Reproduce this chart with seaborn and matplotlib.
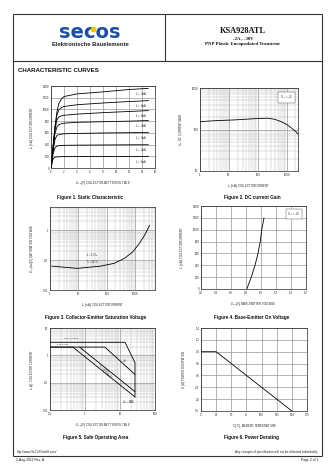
import numpy as np
import pandas as pd
import matplotlib
matplotlib.use("Agg")
import matplotlib.pyplot as plt
import seaborn as sns
from matplotlib.ticker import FixedLocator, LogLocator, NullFormatter, FixedFormatter

# ---------------- data ----------------
# Figure 1: static characteristic, -IC [mA] vs -VCE [V] for several IB
vce_pts = [0, 0.3, 0.6, 0.9, 1.2, 1.6, 2, 4, 8, 12, 15]
ib_names = ["7mA", "6mA", "5mA", "4mA", "3mA", "2mA", "1mA"]
ic_ib7 = [0, 350, 700, 950, 1100, 1180, 1220, 1265, 1300, 1340, 1360]
ic_ib6 = [0, 340, 680, 900, 990, 1030, 1050, 1080, 1110, 1135, 1150]
ic_ib5 = [0, 330, 640, 820, 870, 890, 900, 920, 945, 965, 980]
ic_ib4 = [0, 310, 580, 700, 740, 755, 765, 780, 790, 800, 810]
ic_ib3 = [0, 280, 480, 555, 570, 578, 584, 590, 598, 603, 607]
ic_ib2 = [0, 230, 340, 375, 382, 385, 387, 390, 393, 396, 397]
ic_ib1 = [0, 150, 185, 190, 192, 193, 194, 195, 196, 197, 198]

# Figure 2: DC current gain
hfe_ic = [1, 4, 15, 90, 220, 380, 650, 1000, 1450, 2150, 2450]
hfe_val = [155, 164, 170, 183, 187, 177, 155, 133, 110, 88, 78]

# Figure 3: collector-emitter saturation voltage
sat_ic = [1.15, 9, 61, 182, 415, 830, 1400, 2150, 3250]
sat_v = [0.063, 0.053, 0.063, 0.078, 0.114, 0.19, 0.36, 0.68, 1.47]

# Figure 4: base-emitter on voltage
vbe_v = [0.81, 0.87, 0.92, 0.96, 0.99, 1.01, 1.04]
vbe_ic = [0, 200, 400, 600, 800, 1000, 1200]

# Figure 5: safe operating area
soa_pulse_v = [0.1, 13.9, 26.8, 26.8]
soa_pulse_i = [3.0, 3.0, 0.54, 0.03]
soa_dc_v = [0.1, 3.7, 26.8]
soa_dc_i = [2.0, 2.0, 0.2]
soa_tc_v = [0.1, 0.45, 26.8]
soa_tc_i = [2.0, 2.0, 0.03]
soa_ta_v = [0.7, 26.8]
soa_ta_i = [2.0, 0.047]

# Figure 6: power derating
der_t = [0, 25, 150]
der_p = [1.0, 1.0, 0.0]

# ---------------- page ----------------
sns.set_style("white")
plt.rcParams['font.family'] = ['Liberation Sans', 'DejaVu Sans']
plt.rcParams['mathtext.fontset'] = 'custom'
plt.rcParams['mathtext.rm'] = 'Liberation Sans'

W, H = 336, 475
fig = plt.figure(figsize=(W / 100, H / 100), dpi=100)

page = fig.add_axes([0, 0, 1, 1])
page.set_xlim(0, W)
page.set_ylim(H, 0)
page.axis("off")

def hline(y, x0, x1, lw=0.8):
    page.plot([x0, x1], [y, y], color="#333", lw=lw, solid_capstyle="butt")

def vline(x, y0, y1, lw=0.8):
    page.plot([x, x], [y0, y1], color="#333", lw=lw, solid_capstyle="butt")

hline(14, 13, 322)
hline(61, 13, 322)
hline(456, 13, 322)
vline(13, 14, 456)
vline(322, 14, 456)
vline(165, 14, 61)

# logo
page.text(90, 32.5, "secos", ha="center", va="center", fontsize=14,
          fontweight="heavy", color="#1c4ea6", family="DejaVu Sans")
page.add_patch(plt.Circle((93.5, 29.5), 2.2, color="#f2c300", zorder=5))
page.text(90, 44.5, "Elektronische Bauelemente", ha="center", va="center",
          fontsize=4.2, fontweight="bold", color="#222")

page.text(243, 31, "KSA928ATL", ha="center", va="center", fontsize=6,
          family="Liberation Serif", fontweight="bold", color="#111")
page.text(243, 38.5, "-2A , -30V", ha="center", va="center", fontsize=3.4,
          family="Liberation Serif", fontweight="bold", color="#111")
page.text(243, 44.5, "PNP Plastic Encapsulated Transistor", ha="center",
          va="center", fontsize=3.4, family="Liberation Serif",
          fontweight="bold", color="#111")

page.text(18, 71, "CHARACTERISTIC CURVES", ha="left", va="center",
          fontsize=4.4, fontweight="bold", color="#111")

captions = [
    (90, 197, "Figure 1. Static Characteristic"),
    (252, 197, "Figure 2. DC current Gain"),
    (96, 318, "Figure 3. Collector-Emitter Saturation Voltage"),
    (252, 318, "Figure 4. Base-Emitter On Voltage"),
    (96, 438, "Figure 5. Safe Operating Area"),
    (252, 438, "Figure 6. Power Derating"),
]
for cx, cy, txt in captions:
    page.text(cx, cy, txt, ha="center", va="center", fontsize=3.3,
              fontweight="bold", color="#111")

page.text(17, 452.5, "http://www.SeCoSGmbH.com/", ha="left", va="center",
          fontsize=2.2, color="#222")
page.text(318, 452.5, "Any changes of specification will not be informed individually.",
          ha="right", va="center", fontsize=2.2, color="#222")
page.text(16, 460, "2-Aug-2011 Rev. A", ha="left", va="center", fontsize=2.4,
          color="#222")
page.text(318, 460, "Page 2 of 2", ha="right", va="center", fontsize=2.4,
          color="#222")

# ---------------- chart helpers ----------------
def px_axes(l, t, r, b):
    return fig.add_axes([l / W, 1 - b / H, (r - l) / W, (b - t) / H])

LS = 2.0

def style(ax, xlabel, ylabel, logx=False, logy=False):
    for s in ax.spines.values():
        s.set_linewidth(0.5)
        s.set_color("#222")
    ax.tick_params(which="both", labelsize=LS, length=0, pad=1.2,
                   colors="#222")
    ax.grid(True, which="major", color="#8a8a8a", lw=0.45)
    if logx or logy:
        ax.grid(True, which="minor", color="#b5b5b5", lw=0.3)
    ax.set_xlabel(xlabel, fontsize=LS, labelpad=4, color="#222")
    ax.set_ylabel(ylabel, fontsize=LS, labelpad=5, color="#222")
    ax.set_axisbelow(True)

def draw(ax, x, y):
    d = pd.DataFrame({"x": x, "y": y})
    sns.lineplot(data=d, x="x", y="y", ax=ax, color="black", lw=0.6,
                 sort=False, estimator=None)
    ax.set_xlabel("")
    ax.set_ylabel("")

def log_ticks(axis, major, labels):
    axis.set_major_locator(FixedLocator(major))
    axis.set_major_formatter(FixedFormatter(labels))
    axis.set_minor_locator(LogLocator(base=10, subs=np.arange(2, 10)))
    axis.set_minor_formatter(NullFormatter())

# ---------------- Figure 1 ----------------
ax1 = px_axes(51, 86, 155, 168)
curves = [ic_ib7, ic_ib6, ic_ib5, ic_ib4, ic_ib3, ic_ib2, ic_ib1]
for name, ic in zip(ib_names, curves):
    draw(ax1, vce_pts, ic)
    ax1.text(14.8, ic[-1] - 35, r"I$_B$ = " + name, ha="right", va="top",
             fontsize=1.9, color="#222")
ax1.set_xlim(0, 16)
ax1.set_ylim(0, 1400)
ax1.set_xticks(np.arange(0, 17, 2))
ax1.set_yticks(np.arange(0, 1401, 200))
style(ax1, r"-V$_{CE}$[V], COLLECTOR-EMITTER VOLTAGE",
      r"-I$_C$[mA], COLLECTOR CURRENT")

# ---------------- Figure 2 ----------------
ax2 = px_axes(200, 88, 298, 171)
draw(ax2, hfe_ic, hfe_val)
ax2.set_xscale("log")
ax2.set_yscale("log")
ax2.set_xlim(1, 2500)
ax2.set_ylim(10, 1000)
log_ticks(ax2.xaxis, [1, 10, 100, 1000], ["1", "10", "100", "1000"])
log_ticks(ax2.yaxis, [10, 100, 1000], ["10", "100", "1000"])
style(ax2, r"-I$_C$[mA], COLLECTOR CURRENT", r"h$_{FE}$, DC CURRENT GAIN",
      True, True)
ax2.text(0.95, 0.93, r"V$_{CE}$ = -2V", transform=ax2.transAxes, ha="right",
         va="top", fontsize=1.9,
         bbox=dict(boxstyle="square,pad=0.6", fc="white", ec="#444", lw=0.3))

# ---------------- Figure 3 ----------------
ax3 = px_axes(50, 207, 155, 290)
draw(ax3, sat_ic, sat_v)
ax3.set_xscale("log")
ax3.set_yscale("log")
ax3.set_xlim(1, 5000)
ax3.set_ylim(0.01, 6)
log_ticks(ax3.xaxis, [1, 10, 100, 1000], ["1", "10", "100", "1000"])
log_ticks(ax3.yaxis, [0.01, 0.1, 1], ["0.01", "0.1", "1"])
style(ax3, r"-I$_C$[mA], COLLECTOR CURRENT",
      r"-V$_{CE}$(sat)[V], SATURATION VOLTAGE", True, True)
ax3.text(31, 0.15, r"I$_C$ = 10 I$_B$", ha="center", va="center",
         fontsize=1.8, color="#222")
ax3.text(31, 0.083, r"T$_a$ = 25$\degree$C", ha="center", va="center",
         fontsize=1.8, color="#222")

# ---------------- Figure 4 ----------------
ax4 = px_axes(201, 206, 306, 289)
draw(ax4, vbe_v, vbe_ic)
ax4.set_xlim(0.2, 1.6)
ax4.set_ylim(0, 1400)
ax4.set_xticks(np.round(np.arange(0.2, 1.61, 0.2), 1))
ax4.set_xticklabels([f"{v:.1f}" for v in np.arange(0.2, 1.61, 0.2)])
ax4.set_yticks(np.arange(0, 1401, 200))
style(ax4, r"-V$_{BE}$[V], BASE-EMITTER VOLTAGE",
      r"-I$_C$[mA], COLLECTOR CURRENT")
ax4.text(0.95, 0.95, r"V$_{CE}$ = -2V", transform=ax4.transAxes, ha="right",
         va="top", fontsize=1.9,
         bbox=dict(boxstyle="square,pad=0.6", fc="white", ec="#444", lw=0.3))

# ---------------- Figure 5 ----------------
ax5 = px_axes(50, 328, 155, 410)
draw(ax5, soa_pulse_v, soa_pulse_i)
draw(ax5, soa_dc_v, soa_dc_i)
draw(ax5, soa_tc_v, soa_tc_i)
draw(ax5, soa_ta_v, soa_ta_i)
ax5.set_xscale("log")
ax5.set_yscale("log")
ax5.set_xlim(0.1, 100)
ax5.set_ylim(0.01, 10)
log_ticks(ax5.xaxis, [0.1, 1, 10, 100], ["0.1", "1", "10", "100"])
log_ticks(ax5.yaxis, [0.01, 0.1, 1, 10], ["0.01", "0.1", "1", "10"])
style(ax5, r"-V$_{CE}$[V], COLLECTOR-EMITTER VOLTAGE",
      r"-I$_C$[A], COLLECTOR CURRENT", True, True)
ax5.text(0.42, 4.1, r"I$_C$ MAX (Pulse)", ha="center", va="center",
         fontsize=1.6, color="#222")
ax5.text(0.24, 2.45, r"I$_C$ MAX (DC)", ha="center", va="center",
         fontsize=1.6, color="#222")
ax5.text(13, 0.6, "DC", ha="center", va="center", fontsize=1.8, color="#222",
         rotation=-40)
ax5.text(3.3, 0.3, r"T$_C$ = 25$\degree$C", ha="center", va="center",
         fontsize=1.8, color="#222", rotation=-40)
ax5.text(4.2, 0.2, r"T$_a$ = 25$\degree$C", ha="center", va="center",
         fontsize=1.8, color="#222", rotation=-40)
ax5.text(18, 0.02, r"V$_{CEO}$ MAX", ha="center", va="center", fontsize=1.8,
         color="#222")

# ---------------- Figure 6 ----------------
ax6 = px_axes(201, 328, 307, 411)
draw(ax6, der_t, der_p)
ax6.set_xlim(0, 175)
ax6.set_ylim(0, 1.4)
ax6.set_xticks(np.arange(0, 176, 25))
ax6.set_yticks(np.round(np.arange(0, 1.41, 0.2), 1))
ax6.set_yticklabels([f"{v:.1f}" for v in np.arange(0, 1.41, 0.2)])
style(ax6, r"T$_a$[$\degree$C], AMBIENT TEMPERATURE",
      r"P$_C$[W], POWER DISSIPATION")

fig.savefig("out.png", dpi=100)
